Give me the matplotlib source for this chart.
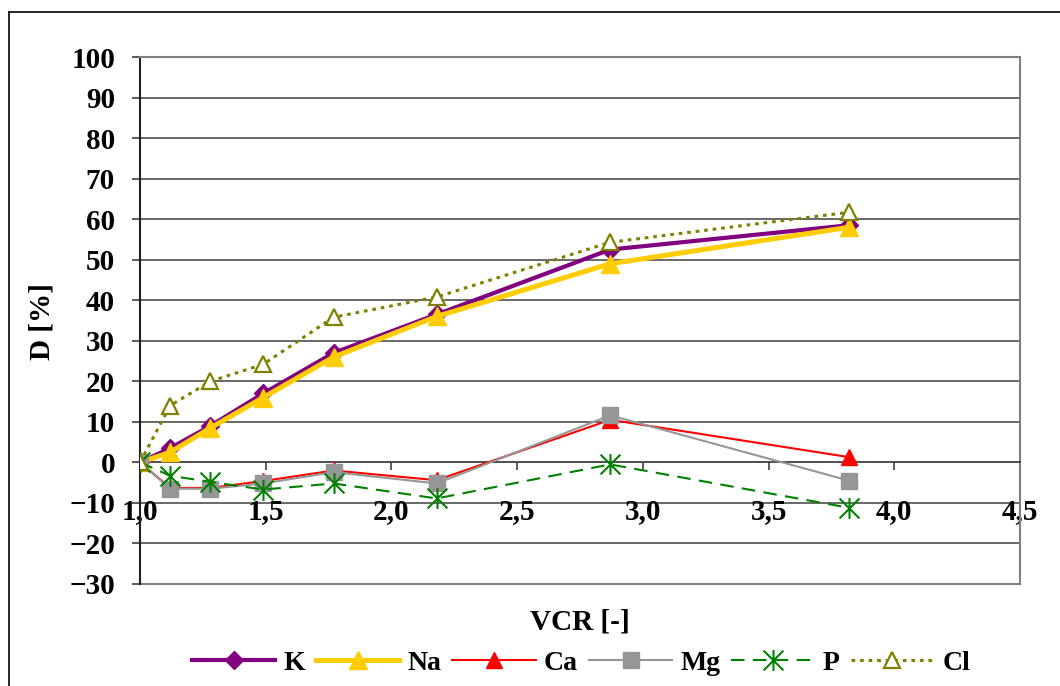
import matplotlib
matplotlib.use("Agg")
import matplotlib.pyplot as plt
from matplotlib.lines import Line2D
from matplotlib.path import Path

# ---- data ----
vcr = [1.00, 1.12, 1.28, 1.49, 1.77, 2.18, 2.87, 3.82]
K  = [0.0, 3.5, 9.0, 17.0, 27.0, 36.5, 52.5, 58.5]
Na = [0.0, 2.5, 8.5, 16.0, 26.0, 36.0, 49.0, 58.0]
Ca = [0.0, -6.3, -6.3, -4.6, -2.0, -4.4, 10.5, 1.3]
Mg = [0.0, -6.5, -6.5, -5.2, -2.4, -5.2, 11.6, -4.5]
P  = [0.0, -3.3, -4.8, -6.7, -5.2, -8.9, -0.5, -11.2]
Cl = [0.0, 14.0, 20.0, 24.2, 35.8, 40.8, 54.3, 61.7]

x_ticks = [1.0, 1.5, 2.0, 2.5, 3.0, 3.5, 4.0, 4.5]
x_tick_labels = ["1,0", "1,5", "2,0", "2,5", "3,0", "3,5", "4,0", "4,5"]
y_ticks = list(range(-30, 101, 10))

FONT = "Liberation Serif"
plt.rcParams['font.family'] = [FONT, 'DejaVu Serif']
plt.rcParams['font.weight'] = 'bold'

W, H = 1060, 686
fig = plt.figure(figsize=(W / 100, H / 100), dpi=100)
ax = fig.add_axes([140 / W, 1 - 584 / H, 880 / W, 527 / H])

ax.set_xlim(1.0, 4.5)
ax.set_ylim(-30, 100)

# star marker (vertical + X)
star = Path([(0, -1), (0, 1), (-0.95, -0.95), (0.95, 0.95), (-0.95, 0.95), (0.95, -0.95)],
            [Path.MOVETO, Path.LINETO, Path.MOVETO, Path.LINETO, Path.MOVETO, Path.LINETO])

ax.plot(vcr, K, color="#800080", lw=3.0, marker="D", ms=9.5, mfc="#800080", mec="#800080",
        label="K", zorder=3)
ax.plot(vcr, Na, color="#FFCC00", lw=3.6, marker="^", ms=13, mfc="#FFCC00", mec="#FFCC00",
        label="Na", zorder=4)
ax.plot(vcr, Ca, color="#FF0000", lw=1.5, marker="^", ms=12, mfc="#FF0000", mec="#FF0000",
        label="Ca", zorder=5)
ax.plot(vcr, Mg, color="#969696", lw=1.5, marker="s", ms=11.5, mfc="#969696", mec="#969696",
        label="Mg", zorder=6)
ax.plot(vcr, P, color="#008000", lw=1.5, ls=(0, (6.5, 4)), marker=star, ms=15,
        mfc="none", mec="#008000", mew=1.5, label="P", zorder=7)
ax.plot(vcr, Cl, color="#808000", lw=2.2, ls=(0, (1.2, 1.6)), dash_capstyle="butt",
        marker="^", ms=12, mfc="white", mec="#808000", mew=1.6, label="Cl", zorder=8)

# grid
for y in y_ticks:
    if -30 < y < 100 and y != 0:
        ax.axhline(y, color="#404040", lw=1.1, zorder=1)

# spines
ax.spines['bottom'].set_position(('data', 0))
ax.spines['bottom'].set_color('#404040')
ax.spines['bottom'].set_linewidth(1.3)
ax.spines['left'].set_color('#202020')
ax.spines['left'].set_linewidth(1.5)
for s in ('top', 'right'):
    ax.spines[s].set_color('#808080')
    ax.spines[s].set_linewidth(1.5)
ax.plot([1.0, 4.5], [-30, -30], color='#808080', lw=1.5, clip_on=False, zorder=2)

ax.set_xticks(x_ticks)
ax.set_xticklabels(x_tick_labels)
ax.set_yticks(y_ticks)
ax.tick_params(axis='x', direction='out', length=6, width=1.2, color='#404040',
               labelsize=21, pad=20)
ax.tick_params(axis='y', direction='out', length=6, width=1.2, color='#404040',
               labelsize=21, pad=12)
for lab in ax.get_xticklabels() + ax.get_yticklabels():
    lab.set_fontweight('bold')

fig.text(42 / W, 1 - 322 / H, "D [%]", rotation=90, ha='center', va='center',
         fontsize=21, fontweight='bold')
fig.text(580 / W, 1 - 622 / H, "VCR [-]", ha='center', va='center',
         fontsize=21, fontweight='bold')

handles, labels = ax.get_legend_handles_labels()
leg = fig.legend(handles, labels, loc='center', bbox_to_anchor=(581 / W, 1 - 663 / H),
                 ncol=6, frameon=False, fontsize=20, handlelength=3.0,
                 handletextpad=0.29, columnspacing=0.4, borderpad=0, markerscale=1.0)
for t in leg.get_texts():
    t.set_fontweight('bold')

# outer chart border
fig.add_artist(Line2D([9 / W, 9 / W], [0, 1 - 12 / H], color='black', lw=1.2))
fig.add_artist(Line2D([9 / W, 1.0], [1 - 12 / H, 1 - 12 / H], color='black', lw=1.2))

fig.savefig("out.png", dpi=100)
